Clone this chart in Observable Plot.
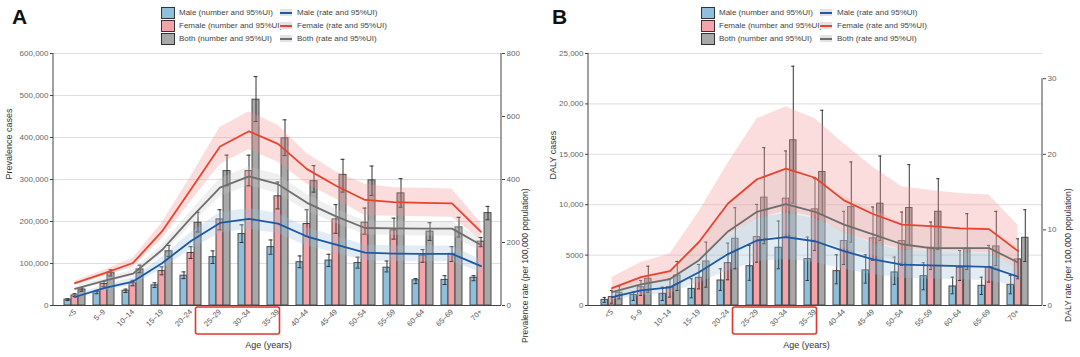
<!DOCTYPE html>
<html><head><meta charset="utf-8">
<script src="https://cdn.jsdelivr.net/npm/d3@7"></script>
<script src="https://cdn.jsdelivr.net/npm/@observablehq/plot@0.6"></script>
<style>
body{margin:0;background:#fff;font-family:"Liberation Sans",Arial,sans-serif;}
#wrap{position:relative;width:1080px;height:357px;overflow:hidden;background:#fff}
.panel{position:absolute;top:0;width:540px;height:357px}
.panel svg{position:absolute;left:0;top:0}
.plab{position:absolute;left:12px;top:5px;font-size:21px;font-weight:bold;color:#111;line-height:24px}
.leg{position:absolute;font-size:8px;color:#444;white-space:nowrap;line-height:11px}
.sw{position:absolute;width:12px;height:10px;border:1px solid #333}
.lsw{position:absolute;width:12px;height:7px;background:#e2e2e2}
.lsw i{position:absolute;left:0;right:0;top:2.5px;height:2px}
</style></head><body><div id="wrap"></div>
<script>
// ---------------- data ----------------
const ages = ["<5","5–9","10–14","15–19","20–24","25–29","30–34","35–39","40–44","45–49","50–54","55–59","60–64","65–69","70+"];
const highlightAges = ["25–29","35–39"];

// Panel A: prevalence cases (number and 95%UI)
const maleNumA   = [14000, 32000, 35000, 48000, 71000, 115000, 170000, 139000, 103000, 107000, 101000, 90000, 60000, 61000, 66000];
const maleNumLoA = [12000, 28000, 31000, 43000, 64000, 100000, 150000, 122000, 90000, 93000, 89000, 80000, 52000, 50000, 59000];
const maleNumHiA = [16000, 36000, 39000, 54000, 80000, 130000, 192000, 156000, 118000, 122000, 115000, 106000, 64000, 71000, 71000];
const femNumA    = [24000, 51000, 53000, 82000, 125000, 205000, 320000, 260000, 194000, 205000, 197000, 179000, 119000, 123000, 152000];
const femNumLoA  = [21000, 45000, 47000, 73000, 112000, 180000, 285000, 230000, 165000, 172000, 170000, 158000, 103000, 105000, 140000];
const femNumHiA  = [28000, 57000, 60000, 92000, 140000, 228000, 358000, 294000, 228000, 240000, 232000, 208000, 133000, 140000, 162000];
const bothNumA   = [38000, 78000, 86000, 129000, 197000, 320000, 490000, 398000, 296000, 311000, 298000, 267000, 176000, 186000, 220000];
const bothNumLoA = [34000, 70000, 78000, 117000, 175000, 285000, 438000, 357000, 270000, 270000, 262000, 234000, 155000, 163000, 204000];
const bothNumHiA = [42000, 85000, 96000, 143000, 222000, 358000, 545000, 442000, 333000, 348000, 332000, 302000, 197000, 210000, 236000];
// Panel A: prevalence rate per 100,000 (rate and 95%UI)
const maleRateA   = [27, 55, 76, 134, 205, 262, 275, 260, 219, 193, 168, 165, 164, 164, 125];
const maleRateLoA = [22, 46, 64, 115, 178, 230, 242, 228, 190, 166, 142, 140, 139, 139, 105];
const maleRateHiA = [33, 64, 88, 153, 232, 295, 308, 292, 248, 220, 192, 190, 189, 189, 145];
const femRateA    = [71, 102, 135, 235, 369, 505, 553, 513, 433, 380, 335, 328, 326, 324, 234];
const femRateLoA  = [64, 92, 122, 210, 330, 448, 495, 455, 385, 338, 285, 283, 282, 280, 208];
const femRateHiA  = [78, 112, 150, 262, 410, 565, 615, 572, 482, 425, 385, 374, 372, 370, 262];
const bothRateA   = [53, 78, 101, 176, 278, 374, 410, 385, 326, 283, 246, 245, 244, 244, 192];
const bothRateLoA = [47, 70, 92, 160, 255, 345, 380, 355, 300, 260, 224, 222, 221, 221, 172];
const bothRateHiA = [59, 88, 112, 192, 300, 402, 440, 415, 352, 306, 268, 268, 267, 267, 212];

// Panel B: DALY cases
const maleNumB   = [560, 1030, 1160, 1650, 2480, 3900, 5730, 4600, 3410, 3480, 3280, 2910, 1890, 1950, 2050];
const maleNumLoB = [300, 500, 500, 760, 1490, 2500, 3640, 2480, 2150, 2220, 2090, 1560, 1160, 1090, 1160];
const maleNumHiB = [800, 1320, 1820, 2650, 3640, 5950, 8380, 6790, 5030, 5030, 4800, 4240, 2810, 2810, 2980];
const femNumB    = [830, 1820, 1820, 2750, 4200, 6790, 10600, 9540, 6390, 6660, 6390, 5730, 3740, 3810, 4570];
const femNumLoB  = [230, 990, 830, 1650, 2550, 4300, 6790, 5460, 4070, 4470, 3970, 3580, 2480, 2320, 2650];
const femNumHiB  = [1500, 2480, 2650, 4070, 6190, 10030, 15330, 12580, 9340, 9770, 9270, 8280, 5460, 5960, 6620];
const bothNumB   = [1260, 2650, 2980, 4370, 6620, 10700, 16390, 13250, 9770, 10100, 9670, 9300, 5630, 5860, 6720];
const bothNumLoB = [660, 1320, 1490, 1820, 3640, 6130, 10170, 9040, 6290, 6460, 5960, 5560, 3580, 3970, 4370];
const bothNumHiB = [1890, 3900, 4370, 6290, 9700, 15660, 23740, 19370, 14240, 14830, 13970, 12580, 9110, 9340, 9500];
// Panel B: DALY rate per 100,000
const maleRateB   = [1.1, 2.0, 2.4, 4.4, 6.8, 8.6, 9.05, 8.5, 7.2, 6.1, 5.4, 5.3, 5.2, 5.1, 3.8];
const maleRateLoB = [0.7, 1.3, 1.6, 3.0, 4.6, 5.8, 6.1, 5.7, 4.8, 4.1, 3.6, 3.5, 3.4, 3.3, 2.5];
const maleRateHiB = [1.6, 2.8, 3.4, 6.0, 9.2, 11.6, 12.2, 11.5, 9.7, 8.2, 7.3, 7.2, 7.0, 6.9, 5.1];
const femRateB    = [2.3, 3.75, 4.55, 8.4, 13.5, 16.7, 18.1, 16.9, 13.9, 12.1, 10.7, 10.5, 10.2, 10.1, 7.2];
const femRateLoB  = [1.6, 2.6, 3.2, 5.8, 9.3, 11.5, 12.5, 11.7, 9.6, 8.4, 7.4, 7.3, 7.1, 7.0, 5.0];
const femRateHiB  = [3.7, 5.7, 6.8, 12.4, 18.8, 24.7, 26.3, 24.7, 21.4, 18.3, 15.7, 15.2, 14.8, 14.6, 10.6];
const bothRateB   = [1.77, 2.8, 3.5, 6.0, 9.8, 12.4, 13.4, 12.4, 10.7, 9.4, 8.1, 7.6, 7.6, 7.6, 5.7];
const bothRateLoB = [1.2, 2.0, 2.5, 4.2, 6.9, 8.7, 9.4, 8.7, 7.5, 6.6, 5.7, 5.3, 5.3, 5.3, 4.0];
const bothRateHiB = [2.4, 3.8, 4.7, 8.1, 13.2, 16.7, 18.1, 16.7, 14.4, 12.7, 10.9, 10.3, 10.3, 10.3, 7.7];

// axis ticks
const leftTicksA = [0, 100000, 200000, 300000, 400000, 500000, 600000];
const rightTicksA = [0, 200, 400, 600, 800];
const leftTicksB = [0, 5000, 10000, 15000, 20000, 25000];
const rightTicksB = [0, 10, 20, 30];

const legendNum = ["Male (number and 95%UI)", "Female (number and 95%UI)", "Both (number and 95%UI)"];
const legendRate = ["Male (rate and 95%UI)", "Female (rate and 95%UI)", "Both (rate and 95%UI)"];

// ---------------- styles ----------------
const barFill = ["#8ec0dd", "#f4a3a8", "#a8a8a8"];
const lineCol = ["#1c58a5", "#e8432c", "#6e6e6e"];
const ribbonCol = ["#9dbfdc", "#f29090", "#c4c4c4"];
const ribbonOp = [0.3, 0.3, 0.28];
const FONT = "'Liberation Sans', Arial, sans-serif";

function panel(cfg) {
  const {ml, mr, pi, po, yMax, k, leftTicks, rightTicks, leftFmt, leftLabel, rightLabel, leftLabelDx, rightLabelDx, num, rate} = cfg;
  const W = 540, H = 357, mt = 53, mb = 52;
  const step = (W - ml - mr) / (ages.length - pi + 2 * po);
  const BW = step * (1 - pi);
  const marks = [];
  marks.push(Plot.gridY(leftTicks.slice(1), {stroke: "#dedede", strokeOpacity: 1}));
  // bars
  num.forEach((s, j) => {
    marks.push(Plot.barY(ages, {x: d => d, y1: 0, y2: (d, i) => s.v[i], fill: barFill[j], stroke: "#4a4a4a", strokeWidth: 1,
      insetLeft: j * BW / 3, insetRight: (2 - j) * BW / 3}));
  });
  // error bars
  num.forEach((s, j) => {
    const dx = (j - 1) * BW / 3;
    marks.push(Plot.ruleX(ages, {x: d => d, y1: (d, i) => s.lo[i], y2: (d, i) => s.hi[i], stroke: "#333", strokeWidth: 1, dx}));
    marks.push(Plot.tickY(ages, {x: d => d, y: (d, i) => s.lo[i], stroke: "#333", strokeWidth: 1, dx, insetLeft: BW / 2 - 2, insetRight: BW / 2 - 2}));
    marks.push(Plot.tickY(ages, {x: d => d, y: (d, i) => s.hi[i], stroke: "#333", strokeWidth: 1, dx, insetLeft: BW / 2 - 2, insetRight: BW / 2 - 2}));
  });
  // ribbons
  [2, 0, 1].forEach(j => {
    const s = rate[j];
    marks.push(Plot.areaY(ages, {x: d => d, y1: (d, i) => s.lo[i] * k, y2: (d, i) => s.hi[i] * k, fill: ribbonCol[j], fillOpacity: ribbonOp[j]}));
  });
  // lines
  [2, 0, 1].forEach(j => {
    const s = rate[j];
    marks.push(Plot.line(ages, {x: d => d, y: (d, i) => s.v[i] * k, stroke: lineCol[j], strokeWidth: 1.8}));
  });
  // axes
  marks.push(Plot.axisY({ticks: leftTicks, tickFormat: leftFmt, tickSize: 3, tickPadding: 2, label: null, fontSize: 8, fill: "#666", stroke: "#444"}));
  marks.push(Plot.axisY(rightTicks.map(t => t * k), {anchor: "right", tickFormat: d => Math.round(d / k), tickSize: 3, tickPadding: 2, label: null, fontSize: 8, fill: "#666", stroke: "#444"}));
  marks.push(Plot.axisX({tickRotate: -45, tickSize: 0, tickPadding: 5, label: null, fontSize: 7.5, fill: "#555"}));
  marks.push(Plot.ruleY([0], {stroke: "#444", strokeWidth: 1}));
  // axis lines via scales
  marks.push((index, scales, values, dims) => {
    const g = d3.create("svg:g").attr("stroke", "#444").attr("stroke-width", 1);
    const xl = dims.marginLeft, xr = dims.width - dims.marginRight;
    g.append("line").attr("x1", xl).attr("x2", xl).attr("y1", scales.y(0)).attr("y2", scales.y(leftTicks[leftTicks.length - 1]));
    g.append("line").attr("x1", xr).attr("x2", xr).attr("y1", scales.y(0)).attr("y2", scales.y(rightTicks[rightTicks.length - 1] * k));
    return g.node();
  });
  // highlight box around age labels
  marks.push((index, scales, values, dims) => {
    const bw = scales.x.bandwidth ? scales.x.bandwidth() : BW;
    const x1 = scales.x(highlightAges[0]) + bw / 2 - 24;
    const x2 = scales.x(highlightAges[1]) + bw / 2 + 2;
    const y0 = dims.height - dims.marginBottom;
    return d3.create("svg:rect").attr("x", x1).attr("y", y0 + 2).attr("width", x2 - x1).attr("height", 27)
      .attr("fill", "none").attr("stroke", "#e3342f").attr("stroke-width", 1.6).attr("rx", 2).node();
  });
  // axis titles
  marks.push(Plot.text([leftLabel], {text: d => d, frameAnchor: "left", rotate: -90, dx: leftLabelDx, fontSize: 9, fill: "#333"}));
  marks.push(Plot.text([rightLabel], {text: d => d, frameAnchor: "right", rotate: -90, dx: rightLabelDx, dy: 9, fontSize: 8.5, fill: "#333"}));
  marks.push(Plot.text(["Age (years)"], {text: d => d, frameAnchor: "bottom", dx: -9, dy: 42, fontSize: 9, fill: "#333"}));

  return Plot.plot({
    width: W, height: H, marginTop: mt, marginBottom: mb, marginLeft: ml, marginRight: mr,
    style: {fontFamily: FONT, fontSize: "8px", background: "transparent", color: "#555"},
    x: {domain: ages, type: "band", paddingInner: pi, paddingOuter: po, axis: null},
    y: {domain: [0, yMax], axis: null},
    marks
  });
}

function legend(el) {
  const wrap = document.createElement("div");
  legendNum.forEach((t, r) => {
    const sw = document.createElement("div");
    sw.className = "sw"; sw.style.left = "161px"; sw.style.top = (7 + 13 * r) + "px"; sw.style.background = barFill[r];
    wrap.appendChild(sw);
    const tx = document.createElement("div");
    tx.className = "leg"; tx.style.left = "179px"; tx.style.top = (7 + 13 * r) + "px"; tx.textContent = t;
    wrap.appendChild(tx);
  });
  legendRate.forEach((t, r) => {
    const sw = document.createElement("div");
    sw.className = "lsw"; sw.style.left = "280px"; sw.style.top = (9 + 13 * r) + "px";
    const ln = document.createElement("i"); ln.style.background = lineCol[r]; sw.appendChild(ln);
    wrap.appendChild(sw);
    const tx = document.createElement("div");
    tx.className = "leg"; tx.style.left = "297px"; tx.style.top = (7 + 13 * r) + "px"; tx.textContent = t;
    wrap.appendChild(tx);
  });
  el.appendChild(wrap);
}

const fmtA = d3.format(",");
const fmtB = d => d >= 10000 ? d3.format(",")(d) : String(d);

const cfgs = [
  {label: "A", ml: 53, mr: 39, pi: 0.28, po: 0.31, yMax: 600000, k: 750, leftTicks: leftTicksA, rightTicks: rightTicksA, leftFmt: fmtA,
   leftLabel: "Prevalence cases", rightLabel: "Prevalence rate (per 100,000 population)", leftLabelDx: -44, rightLabelDx: 24,
   num: [{v: maleNumA, lo: maleNumLoA, hi: maleNumHiA}, {v: femNumA, lo: femNumLoA, hi: femNumHiA}, {v: bothNumA, lo: bothNumLoA, hi: bothNumHiA}],
   rate: [{v: maleRateA, lo: maleRateLoA, hi: maleRateHiA}, {v: femRateA, lo: femRateLoA, hi: femRateHiA}, {v: bothRateA, lo: bothRateLoA, hi: bothRateHiA}]},
  {label: "B", ml: 48, mr: 38, pi: 0.26, po: 0.31, yMax: 25000, k: 750, leftTicks: leftTicksB, rightTicks: rightTicksB, leftFmt: fmtB,
   leftLabel: "DALY cases", rightLabel: "DALY rate (per 100,000 population)", leftLabelDx: -35, rightLabelDx: 26,
   num: [{v: maleNumB, lo: maleNumLoB, hi: maleNumHiB}, {v: femNumB, lo: femNumLoB, hi: femNumHiB}, {v: bothNumB, lo: bothNumLoB, hi: bothNumHiB}],
   rate: [{v: maleRateB, lo: maleRateLoB, hi: maleRateHiB}, {v: femRateB, lo: femRateLoB, hi: femRateHiB}, {v: bothRateB, lo: bothRateLoB, hi: bothRateHiB}]}
];

const root = document.getElementById("wrap");
cfgs.forEach((c, p) => {
  const div = document.createElement("div");
  div.className = "panel"; div.style.left = (p * 540) + "px";
  div.appendChild(panel(c));
  const lab = document.createElement("div"); lab.className = "plab"; lab.textContent = c.label; div.appendChild(lab);
  legend(div);
  root.appendChild(div);
});
</script></body></html>
